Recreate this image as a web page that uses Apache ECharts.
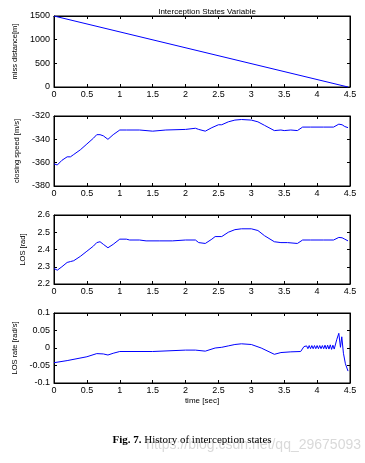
<!DOCTYPE html>
<html><head><meta charset="utf-8">
<script src="https://cdn.jsdelivr.net/npm/echarts@6/dist/echarts.min.js"></script>
<style>html,body{margin:0;padding:0;background:#fff}#c{width:365px;height:463px}</style>
</head><body><div id="c"></div>
<script>
var xTicks = [0, 0.5, 1, 1.5, 2, 2.5, 3, 3.5, 4, 4.5];
var chartTitle = 'Interception States Variable';
var yNames = ['miss distance[m]', 'closing speed [m/s]', 'LOS [rad]', 'LOS rate [rad/s]'];
var xName = 'time [sec]';

var missT = [0, 4.47];
var missV = [1500, 0];

var speedT = [0, 0.05, 0.12, 0.2, 0.25, 0.3, 0.4, 0.5, 0.6, 0.65, 0.7, 0.75, 0.82, 0.9, 1.0, 1.1, 1.3, 1.5, 1.7, 2.0, 2.15, 2.2, 2.3, 2.4, 2.5, 2.55, 2.65, 2.75, 2.85, 3.0, 3.1, 3.2, 3.35, 3.45, 3.5, 3.6, 3.7, 3.78, 3.9, 4.1, 4.25, 4.33, 4.38, 4.42, 4.47];
var speedV = [-361, -362, -358, -355, -355, -353, -349, -344, -339, -336, -336, -337, -340, -336, -332, -332, -332, -333, -332, -331.5, -330.5, -331.5, -333, -330, -327.5, -327.5, -325, -323.5, -323, -323.5, -325, -328, -332.5, -332, -332.5, -332, -332.5, -329.5, -329.5, -329.5, -329.5, -327, -327.5, -329, -330];

var losT = [0, 0.05, 0.12, 0.2, 0.25, 0.3, 0.4, 0.5, 0.6, 0.65, 0.7, 0.75, 0.82, 0.9, 1.0, 1.1, 1.15, 1.3, 1.4, 1.6, 1.8, 2.0, 2.15, 2.2, 2.3, 2.4, 2.45, 2.55, 2.65, 2.75, 2.85, 3.0, 3.1, 3.2, 3.35, 3.45, 3.55, 3.7, 3.78, 3.9, 4.1, 4.25, 4.33, 4.38, 4.42, 4.47];
var losV = [2.29, 2.28, 2.30, 2.325, 2.33, 2.335, 2.36, 2.39, 2.42, 2.44, 2.445, 2.43, 2.41, 2.43, 2.46, 2.46, 2.455, 2.455, 2.45, 2.45, 2.45, 2.455, 2.455, 2.44, 2.435, 2.46, 2.475, 2.475, 2.50, 2.515, 2.52, 2.52, 2.51, 2.48, 2.445, 2.44, 2.44, 2.435, 2.455, 2.455, 2.455, 2.455, 2.47, 2.468, 2.46, 2.45];

var rateT = [0, 0.2, 0.5, 0.65, 0.75, 0.82, 0.9, 1.0, 1.5, 2.0, 2.15, 2.3, 2.45, 2.55, 2.65, 2.75, 2.85, 3.0, 3.15, 3.35, 3.45, 3.6, 3.75, 3.8, 3.82, 3.84, 3.86, 3.88, 3.9, 3.92, 3.94, 3.96, 3.98, 4.0, 4.02, 4.04, 4.06, 4.08, 4.1, 4.12, 4.14, 4.16, 4.18, 4.2, 4.22, 4.24, 4.26, 4.3, 4.33, 4.355, 4.375, 4.4, 4.43, 4.47];
var rateV = [-0.042, -0.036, -0.025, -0.016, -0.017, -0.020, -0.015, -0.010, -0.010, -0.006, -0.006, -0.009, 0.000, 0.002, 0.006, 0.010, 0.012, 0.010, 0.000, -0.018, -0.013, -0.011, -0.010, 0.004, -0.001, 0.006, -0.002, 0.007, -0.002, 0.007, -0.002, 0.007, -0.002, 0.007, -0.002, 0.007, -0.002, 0.007, -0.002, 0.008, -0.003, 0.008, -0.003, 0.009, -0.004, 0.008, -0.003, 0.025, 0.042, 0.002, 0.032, -0.015, -0.045, -0.066];

var yRanges = [[0, 1500, 500], [-380, -320, 20], [2.2, 2.6, 0.1], [-0.1, 0.1, 0.05]];
var seriesList = [[missT, missV], [speedT, speedV], [losT, losV], [rateT, rateV]];

var gridTops = [16, 116, 215, 313];
var gridH = [71, 70, 69, 70];
var font = 'Liberation Sans, Arial, sans-serif';

function pairs(t, v) { return t.map(function (x, i) { return [x, v[i]]; }); }
function fmt(v) { return String(Math.round(v * 1000) / 1000); }

var grids = [], xAxes = [], yAxes = [], series = [];
for (var i = 0; i < 4; i++) {
  grids.push({ left: 54, width: 296, top: gridTops[i], height: gridH[i], show: true, borderColor: '#000', borderWidth: 1, backgroundColor: '#fff' });
  var tickStyle = { show: true, inside: true, length: 3, lineStyle: { color: '#000', width: 1 } };
  xAxes.push({
    type: 'value', gridIndex: i, min: 0, max: 4.5, interval: 0.5, position: 'bottom',
    axisLine: { show: true, onZero: false, lineStyle: { color: '#000' } }, axisTick: tickStyle,
    splitLine: { show: false },
    axisLabel: { color: '#000', fontSize: 9, fontFamily: font, margin: 3, formatter: fmt },
    name: i === 3 ? xName : '', nameLocation: 'middle', nameGap: 14,
    nameTextStyle: { color: '#000', fontSize: 8, fontFamily: font }
  });
  xAxes.push({
    type: 'value', gridIndex: i, min: 0, max: 4.5, interval: 0.5, position: 'top',
    axisLine: { show: true, onZero: false, lineStyle: { color: '#000' } }, axisTick: tickStyle,
    splitLine: { show: false }, axisLabel: { show: false }
  });
  var r = yRanges[i];
  yAxes.push({
    type: 'value', gridIndex: i, min: r[0], max: r[1], interval: r[2], position: 'left',
    axisLine: { show: true, onZero: false, lineStyle: { color: '#000' } }, axisTick: tickStyle,
    splitLine: { show: false },
    axisLabel: { color: '#000', fontSize: 9, fontFamily: font, margin: 4, formatter: fmt },
    name: yNames[i], nameLocation: 'middle', nameRotate: 90,
    nameGap: [29, 32, 26, 34][i],
    nameTextStyle: { color: '#000', fontSize: 7.5, fontFamily: font }
  });
  yAxes.push({
    type: 'value', gridIndex: i, min: r[0], max: r[1], interval: r[2], position: 'right',
    axisLine: { show: true, onZero: false, lineStyle: { color: '#000' } }, axisTick: tickStyle,
    splitLine: { show: false }, axisLabel: { show: false }
  });
  series.push({
    type: 'line', xAxisIndex: 2 * i, yAxisIndex: 2 * i, showSymbol: false, animation: false,
    data: pairs(seriesList[i][0], seriesList[i][1]),
    lineStyle: { color: '#0000ff', width: 1 }, itemStyle: { color: '#0000ff' }
  });
}

var chart = echarts.init(document.getElementById('c'), null, { renderer: 'canvas' });
chart.setOption({
  animation: false,
  backgroundColor: '#fff',
  title: [
    { text: chartTitle, left: 202, top: 3, textAlign: 'center', textStyle: { fontSize: 8, fontWeight: 'normal', color: '#000', fontFamily: font } },
    { text: 'https://blog.csdn.net/qq_29675093', left: 356, top: 433, textAlign: 'right', textStyle: { fontSize: 14, fontWeight: 'normal', color: '#d9d9d9', fontFamily: font } },
    { text: '{b|Fig. 7.} History of interception states', left: 187, top: 430, textAlign: 'center',
      textStyle: { fontSize: 11, fontWeight: 'normal', color: '#000', fontFamily: 'Liberation Serif, Times New Roman, serif',
        rich: { b: { fontSize: 11, fontWeight: 'bold', fontFamily: 'Liberation Serif, Times New Roman, serif', color: '#000' } } } }
  ],
  grid: grids, xAxis: xAxes, yAxis: yAxes, series: series
});
</script></body></html>
